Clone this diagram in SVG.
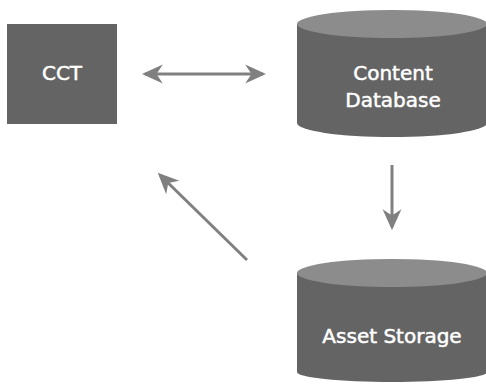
<svg xmlns="http://www.w3.org/2000/svg" width="486" height="384" viewBox="0 0 486 384">
<style>
.body{fill:#646464}
.top{fill:#8c8c8c}
.lbl{fill:#ffffff;font-family:"DejaVu Sans",sans-serif;font-weight:normal;font-size:20px;text-anchor:middle;stroke:#ffffff;stroke-width:0.5}
.conn{stroke:#808080;stroke-width:3;fill:none}
</style>
<defs>
<marker id="ah" viewBox="0 0 20 20" refX="17" refY="10" markerWidth="7" markerHeight="7" markerUnits="strokeWidth" orient="auto-start-reverse">
<path d="M0,1 L20,10 L0,19 L6,10 Z" fill="#808080"/>
</marker>
</defs>
<rect width="486" height="384" fill="#ffffff"/>
<g id="connectors">
<line class="conn" x1="145" y1="74" x2="263" y2="74" marker-start="url(#ah)" marker-end="url(#ah)"/>
<line class="conn" x1="392" y1="165" x2="392" y2="227" marker-end="url(#ah)"/>
<line class="conn" x1="247" y1="260" x2="160" y2="175" marker-end="url(#ah)"/>
</g>
<g id="cct">
<rect class="body" x="7" y="24" width="110" height="100"/>
<text class="lbl" x="62" y="80">CCT</text>
</g>
<g id="content-database">
<path class="body" d="M297,24 L297,123 A95,14 0 0 0 487,123 L487,24 Z"/>
<ellipse class="top" cx="392" cy="24" rx="95" ry="14"/>
<text class="lbl" x="393" y="80">Content</text>
<text class="lbl" x="393" y="107">Database</text>
</g>
<g id="asset-storage">
<path class="body" d="M297,273 L297,372 A95,10 0 0 0 487,372 L487,273 Z"/>
<ellipse class="top" cx="392" cy="273" rx="95" ry="14"/>
<text class="lbl" x="392" y="343">Asset Storage</text>
</g>
</svg>
